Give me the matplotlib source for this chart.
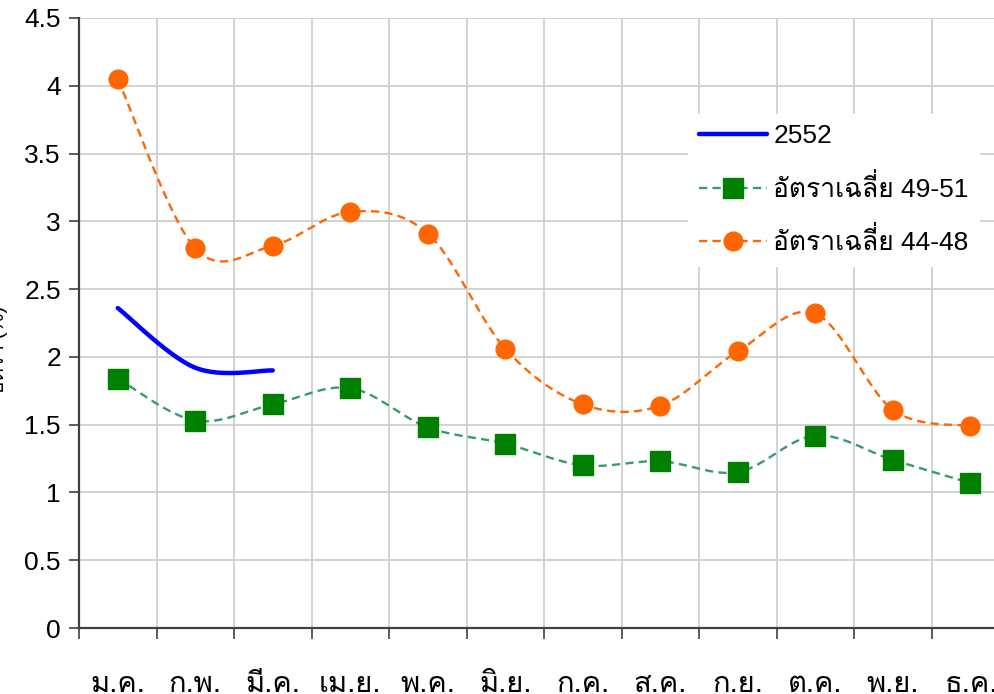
import numpy as np
import matplotlib
matplotlib.use("Agg")
import matplotlib.pyplot as plt

months = ["ม.ค.", "ก.พ.", "มี.ค.", "เม.ย.", "พ.ค.", "มิ.ย.",
          "ก.ค.", "ส.ค.", "ก.ย.", "ต.ค.", "พ.ย.", "ธ.ค."]
y2552 = [2.36, 1.92, 1.90]
avg_49_51 = [1.84, 1.53, 1.65, 1.77, 1.48, 1.36, 1.20, 1.23, 1.15, 1.42, 1.24, 1.07]
avg_44_48 = [4.05, 2.80, 2.82, 3.07, 2.91, 2.06, 1.65, 1.64, 2.04, 2.32, 1.61, 1.49]

label_2552 = "2552"
label_4951 = "อัตราเฉลี่ย 49-51"
label_4448 = "อัตราเฉลี่ย 44-48"
ylabel_txt = "อัตรา (%)"


def smooth(y, n=30):
    # Catmull-Rom style smoothing like Excel "smoothed line"
    y = np.asarray(y, dtype=float)
    x = np.arange(len(y), dtype=float)
    px = np.concatenate([[x[0]], x, [x[-1]]])
    py = np.concatenate([[y[0]], y, [y[-1]]])
    xs, ys = [], []
    t = np.linspace(0, 1, n)
    for i in range(1, len(px) - 2):
        p0x, p1x, p2x, p3x = px[i - 1], px[i], px[i + 1], px[i + 2]
        p0y, p1y, p2y, p3y = py[i - 1], py[i], py[i + 1], py[i + 2]
        c1x, c1y = p1x + (p2x - p0x) / 6, p1y + (p2y - p0y) / 6
        c2x, c2y = p2x - (p3x - p1x) / 6, p2y - (p3y - p1y) / 6
        bx = (1 - t) ** 3 * p1x + 3 * (1 - t) ** 2 * t * c1x + 3 * (1 - t) * t ** 2 * c2x + t ** 3 * p2x
        by = (1 - t) ** 3 * p1y + 3 * (1 - t) ** 2 * t * c1y + 3 * (1 - t) * t ** 2 * c2y + t ** 3 * p2y
        xs.append(bx)
        ys.append(by)
    return np.concatenate(xs), np.concatenate(ys)


plt.rcParams["font.family"] = ["Liberation Sans", "Loma"]

fig = plt.figure(figsize=(9.94, 6.94), dpi=100)
ax = fig.add_axes([0.0795, 0.0951, 0.9356, 0.879])

x = np.arange(len(months))
dash = (0, (3.5, 2.2))

# orange series
sx, sy = smooth(avg_44_48)
ax.plot(sx, sy, color="#FF6600", lw=1.7, ls=dash, zorder=3)
ax.plot(x, avg_44_48, ls="none", marker="o", ms=13.5, color="#FF6600", zorder=4)

# green series
sx, sy = smooth(avg_49_51)
ax.plot(sx, sy, color="#3A9A68", lw=1.7, ls=dash, zorder=3)
ax.plot(x, avg_49_51, ls="none", marker="s", ms=14, color="#008000", zorder=4)

# 2552
sx, sy = smooth(y2552)
ax.plot(sx, sy, color="#0000FF", lw=3.2, solid_capstyle="round", zorder=5)

# legend proxies
h1, = ax.plot([], [], color="#0000FF", lw=3.2, solid_capstyle="round")
h2, = ax.plot([], [], color="#3A9A68", lw=1.7, ls=dash,
              marker="s", ms=14, mfc="#008000", mec="#008000")
h3, = ax.plot([], [], color="#FF6600", lw=1.7, ls=dash,
              marker="o", ms=13.5, mfc="#FF6600", mec="#FF6600")
leg = ax.legend([h1, h2, h3], [label_2552, label_4951, label_4448],
                loc="upper left", bbox_to_anchor=(0.655, 0.843),
                frameon=True, fancybox=False, framealpha=1, edgecolor="white",
                fontsize=19, handlelength=2.6, handletextpad=0.22,
                labelspacing=0.97, borderpad=0.4, borderaxespad=0)

ax.set_xlim(-0.5, len(months) - 0.5)
ax.set_ylim(0, 4.5)
ax.set_yticks(np.arange(0, 4.51, 0.5))
ax.set_yticklabels(["0", "0.5", "1", "1.5", "2", "2.5", "3", "3.5", "4", "4.5"])
ax.set_xticks(np.arange(-0.5, len(months), 1.0))
ax.set_xticklabels([])
ax.set_xticks(x, minor=True)
ax.set_xticklabels(months, minor=True, family=["Loma"], fontsize=21)
ax.tick_params(axis="x", which="minor", length=0, pad=30)
ax.tick_params(axis="x", which="major", length=8, width=1.2, color="#404040", direction="out")
ax.tick_params(axis="y", length=7, width=1.2, color="#404040", direction="out",
               labelsize=19, pad=6)

ax.grid(True, which="major", color="#CFCFCF", lw=1.3)
ax.set_axisbelow(True)
for s in ["top", "right"]:
    ax.spines[s].set_visible(False)
for s in ["left", "bottom"]:
    ax.spines[s].set_color("#404040")
    ax.spines[s].set_linewidth(1.6)

ax.set_ylabel(ylabel_txt, fontsize=15)
ax.yaxis.set_label_coords(-0.076, 0.456)

fig.savefig("out.png", dpi=100)
